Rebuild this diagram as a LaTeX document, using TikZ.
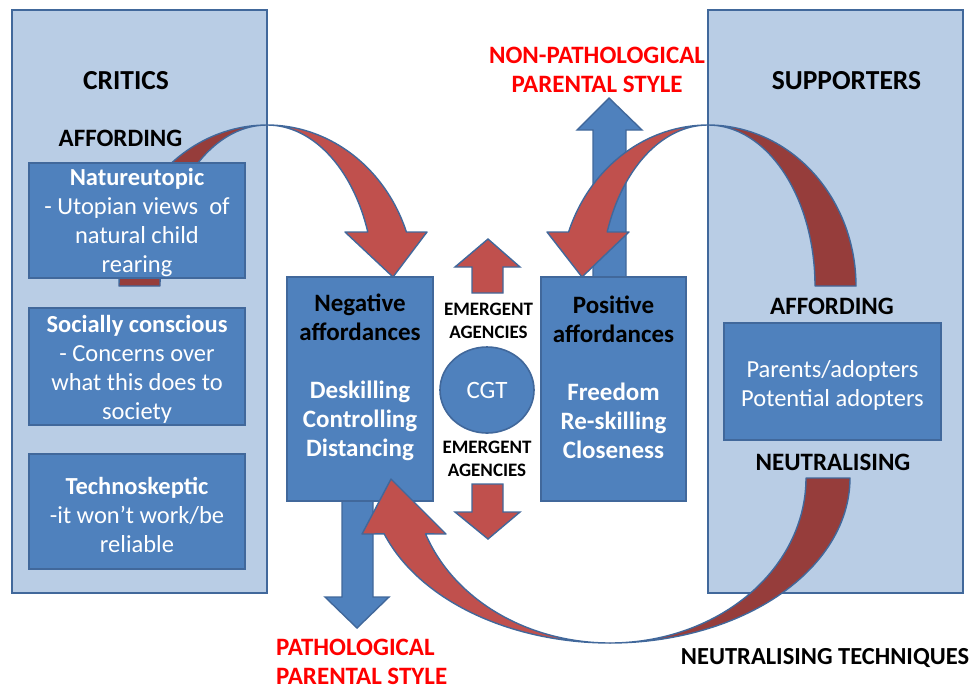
\documentclass[tikz,border=0pt]{standalone}
\usepackage{fontspec}
\setmainfont{Carlito}
\usetikzlibrary{shapes.geometric}
\definecolor{lightfill}{HTML}{B9CDE5}
\definecolor{edgeblue}{HTML}{41689B}
\definecolor{boxfill}{HTML}{4F81BD}
\definecolor{arrred}{HTML}{C0504D}
\definecolor{arrdark}{HTML}{963D3B}
\definecolor{labred}{HTML}{FF0000}
\tikzset{
  panel/.style={draw=edgeblue, fill=lightfill, line width=1.6pt},
  bluebox/.style={draw=edgeblue, fill=boxfill, line width=1.6pt, rectangle, inner sep=0pt},
  redshape/.style={draw=edgeblue, fill=arrred, line width=1.4pt, line join=round},
  darkshape/.style={draw=edgeblue, fill=arrdark, line width=1.4pt, line join=round},
  blueshape/.style={draw=edgeblue, fill=boxfill, line width=1.4pt, line join=miter},
  bigtxt/.style={font=\fontsize{24.5}{29}\selectfont, align=center, inner sep=0pt},
  headtxt/.style={font=\fontsize{25}{29}\selectfont\bfseries, align=center, inner sep=0pt},
  titletxt/.style={font=\fontsize{27.5}{32}\selectfont\bfseries, align=center, inner sep=0pt},
  smalltxt/.style={font=\fontsize{19}{22.5}\selectfont\bfseries, align=center, inner sep=0pt},
}
\begin{document}
\begin{tikzpicture}[x=1pt,y=-1pt]
\useasboundingbox (0,0) rectangle (973,689);
% panels
\draw[panel] (12,10) rectangle (267,593);
\draw[panel] (708,10) rectangle (963,593);

% blue arrow up (non-pathological)
\draw[blueshape] (593,279) -- (593,130) -- (577,130) -- (609,98) -- (642,130) -- (626,130) -- (626,279) -- cycle;

% curved arrow 1 (critics -> negative)
\draw[darkshape] plot[domain=180:270, samples=50, variable=\t] ({267+148*cos(\t)},{286+161*sin(\t)})
  -- plot[domain=270:180, samples=50, variable=\t] ({267+107*cos(\t)},{286+161*sin(\t)}) -- cycle;
\draw[redshape] plot[domain=270:340.4, samples=50, variable=\t] ({267+148*cos(\t)},{286+161*sin(\t)})
  -- (427,232) -- (393,277) -- (345,232)
  -- plot[domain=340.4:270, samples=50, variable=\t] ({267+107*cos(\t)},{286+161*sin(\t)}) -- cycle;

% curved arrow 2 (supporters -> positive)
\draw[darkshape] plot[domain=270:360, samples=50, variable=\t] ({708+148*cos(\t)},{286+161*sin(\t)})
  -- plot[domain=360:270, samples=50, variable=\t] ({708+107*cos(\t)},{286+161*sin(\t)}) -- cycle;
\draw[redshape] plot[domain=270:199.6, samples=50, variable=\t] ({708+148*cos(\t)},{286+161*sin(\t)})
  -- (547,232) -- (582,277) -- (629,232)
  -- plot[domain=199.6:270, samples=50, variable=\t] ({708+107*cos(\t)},{286+161*sin(\t)}) -- cycle;

% critic boxes
\node[bluebox, minimum width=216pt, minimum height=115pt] (nat) at (137,220.5) {};
\node[bluebox, minimum width=216pt, minimum height=117pt] (soc) at (137,366.5) {};
\node[bluebox, minimum width=216pt, minimum height=115pt] (tech) at (137,511.5) {};
\node[bigtxt, text=white] (nattxt) at (137,223) {\textbf{Natureutopic}\\- Utopian views~ of\\natural child\\rearing};
\node[bigtxt, text=white] (soctxt) at (137,369) {\textbf{Socially conscious}\\- Concerns over\\what this does to\\society};
\node[bigtxt, text=white] (techtxt) at (137,515) {\textbf{Technoskeptic}\\-it won’t work/be\\reliable};

% supporter box
\node[bluebox, minimum width=217pt, minimum height=117pt] (par) at (832.5,381.5) {};
\node[bigtxt, text=white] (partxt) at (832.5,385) {Parents/adopters\\Potential adopters};

% negative / positive boxes
\draw[blueshape] (342,498) -- (342,597) -- (325,597) -- (357,628) -- (389,597) -- (373,597) -- (373,498) -- cycle;
\node[bluebox, minimum width=146pt, minimum height=224pt] (neg) at (360,389) {};
\node[bluebox, minimum width=145pt, minimum height=224pt] (pos) at (613.5,389) {};
\node[headtxt] (negtxt) at (360,377) {Negative\\affordances\\[29pt]\textcolor{white}{Deskilling}\\\textcolor{white}{Controlling}\\\textcolor{white}{Distancing}};
\node[headtxt] (postxt) at (613.5,377) {Positive\\affordances\\[29pt]\textcolor{white}{Freedom}\\\textcolor{white}{Re-skilling}\\\textcolor{white}{Closeness}};

% CGT
\node[ellipse, draw=edgeblue, fill=boxfill, line width=1.6pt, minimum width=94pt, minimum height=86pt, inner sep=0pt,
      font=\fontsize{25}{29}\selectfont, text=white] (cgt) at (487,390) {CGT};

% small red arrows
\draw[redshape, line join=miter] (472,293) -- (472,267) -- (455,267) -- (488,239) -- (520,267) -- (503,267) -- (503,293) -- cycle;
\draw[redshape, line join=miter] (472,484) -- (472,512) -- (455,512) -- (488,539) -- (520,512) -- (503,512) -- (503,484) -- cycle;
\node[smalltxt] (em1) at (488.5,321) {EMERGENT\\AGENCIES};
\node[smalltxt] (em2) at (487,459) {EMERGENT\\AGENCIES};

% curved arrow 3 (neutralising)
\draw[darkshape] plot[domain=0:90, samples=60, variable=\t] ({610+240*cos(\t)},{478+165*sin(\t)})
  -- plot[domain=90:0, samples=60, variable=\t] ({610+196*cos(\t)},{478+165*sin(\t)}) -- cycle;
\draw[redshape] plot[domain=90:160.2, samples=60, variable=\t] ({610+240*cos(\t)},{478+165*sin(\t)})
  -- (362,534) -- (391,479) -- (446,534)
  -- plot[domain=160.2:90, samples=60, variable=\t] ({610+196*cos(\t)},{478+165*sin(\t)}) -- cycle;

% labels
\node[titletxt] (critics) at (126,81) {CRITICS};
\node[headtxt] (affl) at (120.5,138) {AFFORDING};
\node[titletxt] (supp) at (846.5,81) {SUPPORTERS};
\node[headtxt] (affr) at (832,306) {AFFORDING};
\node[headtxt] (neut) at (833,462) {NEUTRALISING};
\node[font=\fontsize{24.5}{29}\selectfont\bfseries, inner sep=0pt] (neuttech) at (825,658) {NEUTRALISING TECHNIQUES};
\node[headtxt, text=labred] (nonpath) at (597,69.5) {NON-PATHOLOGICAL\\PARENTAL STYLE};
\node[headtxt, text=labred, align=left, anchor=west] (path) at (276,662) {PATHOLOGICAL\\PARENTAL STYLE};
\end{tikzpicture}
\end{document}
